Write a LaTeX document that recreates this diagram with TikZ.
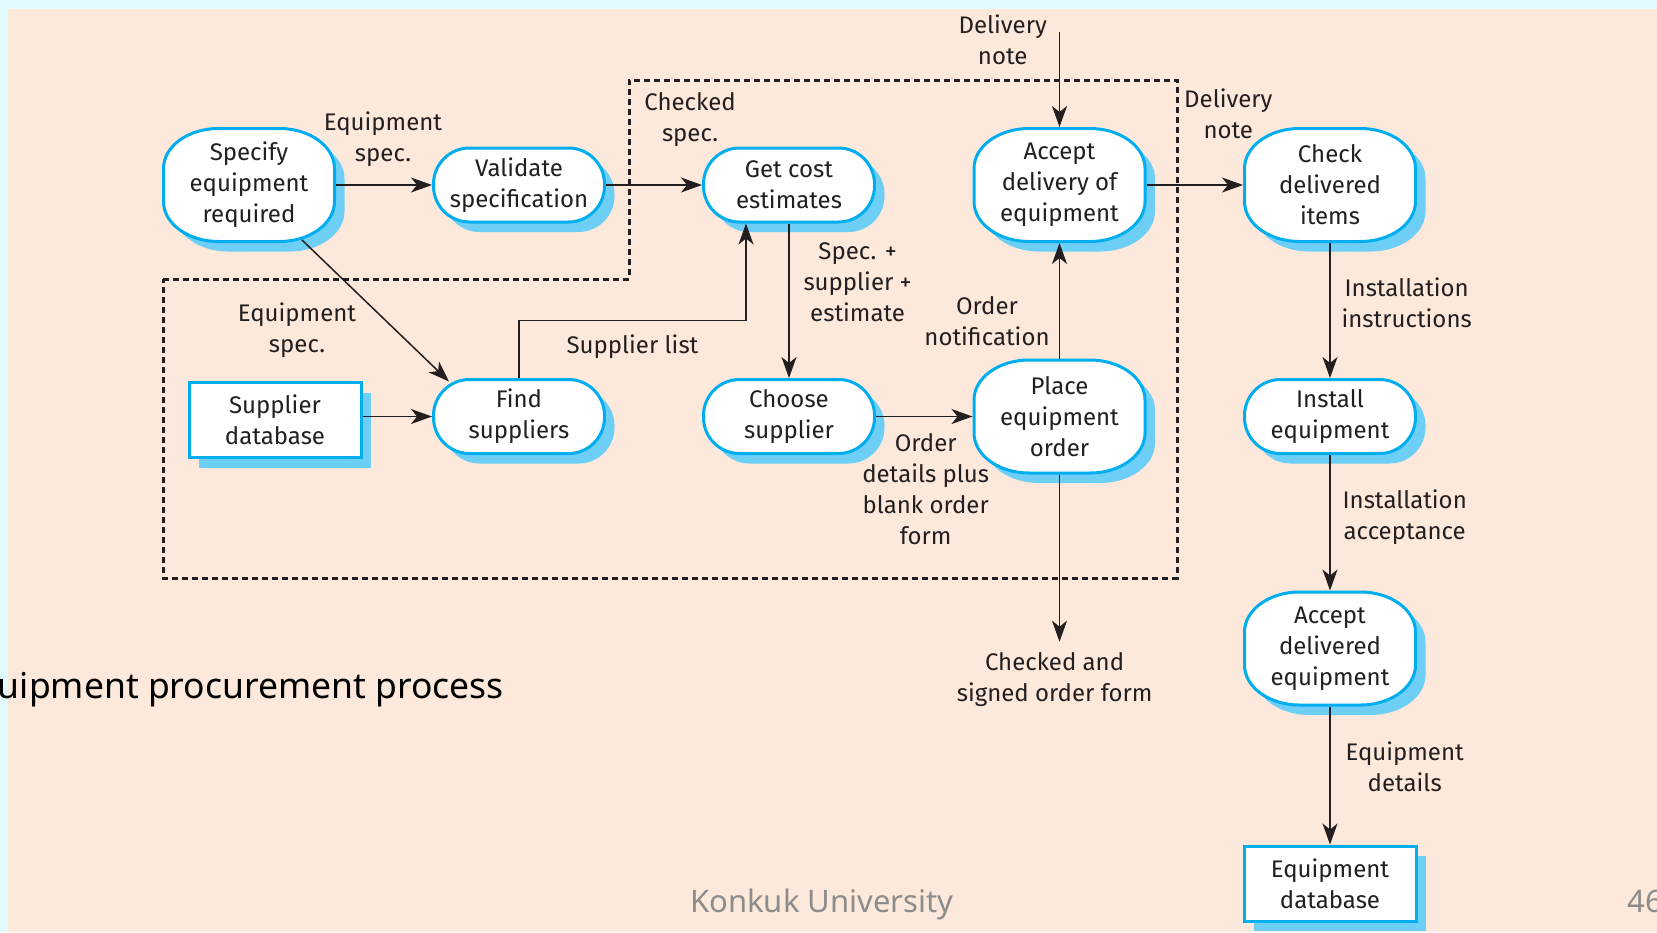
\documentclass[tikz,border=0pt]{standalone}
\usepackage{fontspec}
\setmainfont{Fira Sans}
\newfontfamily\slidefont{Noto Sans}
\usetikzlibrary{arrows.meta,calc,shadows}

\definecolor{paper}{HTML}{FCE9DB}
\definecolor{rim}{HTML}{E2FBFC}
\definecolor{procblue}{HTML}{00AEEF}
\definecolor{shadeblue}{HTML}{6DCFF6}
\definecolor{ink}{HTML}{231F20}
\definecolor{footgray}{HTML}{8C8C8C}

\pgfdeclarelayer{back}
\pgfdeclarelayer{bg}
\pgfsetlayers{back,bg,main}

% outline of a three-line process: a box with elliptical corners (y axis points down)
\newcommand\ovalpath{(-30.5,-56.5) -- (30.5,-56.5)
  .. controls (60.9,-56.5) and (85.5,-38.6) .. (85.5,-16.5) -- (85.5,16.5)
  .. controls (85.5,38.6) and (60.9,56.5) .. (30.5,56.5) -- (-30.5,56.5)
  .. controls (-60.9,56.5) and (-85.5,38.6) .. (-85.5,16.5) -- (-85.5,-16.5)
  .. controls (-85.5,-38.6) and (-60.9,-56.5) .. (-30.5,-56.5) -- cycle}
\newcommand\ovaloutline[1]{%
  \begin{scope}[shift={(#1.center)}]
    \fill[shadeblue, shift={(10,10)}] \ovalpath;
    \filldraw[draw=procblue, line width=3pt, fill=white] \ovalpath;
  \end{scope}}

\begin{document}
\begin{tikzpicture}[x=1pt,y=-1pt,
  font=\fontsize{24}{31}\selectfont,
  blueshadow/.style={drop shadow={shadow xshift=10pt, shadow yshift=-10pt, fill=shadeblue, opacity=1}},
  proc/.style={draw=procblue, line width=3pt, fill=white, rounded corners=36pt,
    minimum width=171pt, minimum height=74pt, inner sep=0pt, align=center,
    text=ink, blueshadow},
  proctall/.style={minimum width=174pt, minimum height=116pt, inner sep=0pt,
    outer sep=0pt, align=center, text=ink},
  store/.style={draw=procblue, line width=3pt, fill=white, minimum width=172pt,
    minimum height=75pt, inner sep=0pt, align=center, text=ink, blueshadow},
  flow/.style={draw=ink, line width=1.5pt, -{Stealth[length=21pt,width=15pt,inset=6pt]}},
  lbl/.style={align=center, inner sep=0pt, text=ink},
  boundary/.style={draw=ink, line width=3pt, dash pattern=on 6pt off 4pt}
]
% page background
\useasboundingbox (0,0) rectangle (1657,932);
\clip (0,0) rectangle (1657,932);
\begin{pgfonlayer}{back}
  \fill[rim] (0,0) rectangle (1657,932);
  \fill[paper] (8,9) rectangle (1657,932);
\end{pgfonlayer}

% dotted boundary round the procurement sub-process
\draw[boundary] (163,279) -- (629,279) -- (629,80) -- (1177,80) -- (1177,578) -- (163,578) -- cycle;

% processes and data stores
\node[proctall] (spec)    at (249,185)    {Specify\\equipment\\required};
\node[proc]     (valid)   at (519,185)    {Validate\\specification};
\node[proc]     (cost)    at (789,185)    {Get cost\\estimates};
\node[proctall] (accept)  at (1059.5,185) {Accept\\delivery of\\equipment};
\node[proctall] (check)   at (1330,185)   {Check\\delivered\\items};
\node[store]    (db)      at (275,420)    {Supplier\\database};
\node[proc]     (find)    at (519,416.5)  {Find\\suppliers};
\node[proc]     (choose)  at (789,416.5)  {Choose\\supplier};
\node[proctall] (order)   at (1059.5,416.5) {Place\\equipment\\order};
\node[proc]     (install) at (1330,416.5) {Install\\equipment};
\node[proctall] (acceptd) at (1330,648.5) {Accept\\delivered\\equipment};
\node[store]    (eqdb)    at (1330,883.5) {Equipment\\database};

% outlines of the three-line processes, behind their text
\begin{pgfonlayer}{bg}
  \ovaloutline{spec}
  \ovaloutline{accept}
  \ovaloutline{check}
  \ovaloutline{order}
  \ovaloutline{acceptd}
\end{pgfonlayer}

% free ends of the external flows
\coordinate (notein) at (1059.5,31.7);
\coordinate (formout) at (1059.5,641.7);

% data flows
\draw[flow] (spec.east) -- (valid.west);
\draw[flow] (valid.east) -- (cost.west);
\draw[flow] ($(spec.center)+(53,55)$) -- ($(find.center)+(-70,-35)$);
\draw[flow] (db.east |- find.west) -- (find.west);
\draw[flow] (find.north) |- ($(cost.south)+(-43,97)$) -- ($(cost.south)+(-43,0)$);
\draw[flow] (cost.south) -- (choose.north);
\draw[flow] (choose.east) -- (order.west);
\draw[flow] (order.north) -- (accept.south);
\draw[flow] (notein) -- (accept.north);
\draw[flow] (accept.east) -- (check.west);
\draw[flow] (check.south) -- (install.north);
\draw[flow] (install.south) -- (acceptd.north);
\draw[flow] (acceptd.south) -- (eqdb.north);
\draw[flow] (order.south) -- (formout);

% flow labels
\node[lbl] (l1)  at (383,139)     {Equipment\\spec.};
\node[lbl] (l2)  at (690,120)     {Checked\\spec.};
\node[lbl] (l3)  at (297,330)     {Equipment\\spec.};
\node[lbl] (l4)  at (632.5,346.7) {Supplier list};
\node[lbl] (l5)  at (857.6,282.5) {Spec. +\\supplier +\\estimate};
\node[lbl] (l6)  at (925.7,489.5) {Order\\details plus\\blank order\\form};
\node[lbl] (l7)  at (987,321)     {Order\\notification};
\node[lbl] (l8)  at (1002.7,40)   {Delivery\\note};
\node[lbl] (l9)  at (1228.3,114)  {Delivery\\note};
\node[lbl] (l10) at (1406.7,303)  {Installation\\instructions};
\node[lbl] (l11) at (1404.7,517)  {Installation\\acceptance};
\node[lbl] (l12) at (1404.7,767)  {Equipment\\details};
\node[lbl] (l13) at (1054.6,680)  {Checked and\\signed order form};

% slide caption and footer
\node[inner sep=0pt, anchor=base east, font=\slidefont\fontsize{35.5}{42}\selectfont, text=black] (cap) at (504,698) {uipment procurement process};
\node[inner sep=0pt, anchor=base west, font=\slidefont\fontsize{31}{36}\selectfont, text=footgray] (foot) at (690,912.7) {Konkuk University};
\node[inner sep=0pt, anchor=base west, font=\slidefont\fontsize{31}{36}\selectfont, text=footgray] (page) at (1627.5,912.7) {46};
\end{tikzpicture}
\end{document}
